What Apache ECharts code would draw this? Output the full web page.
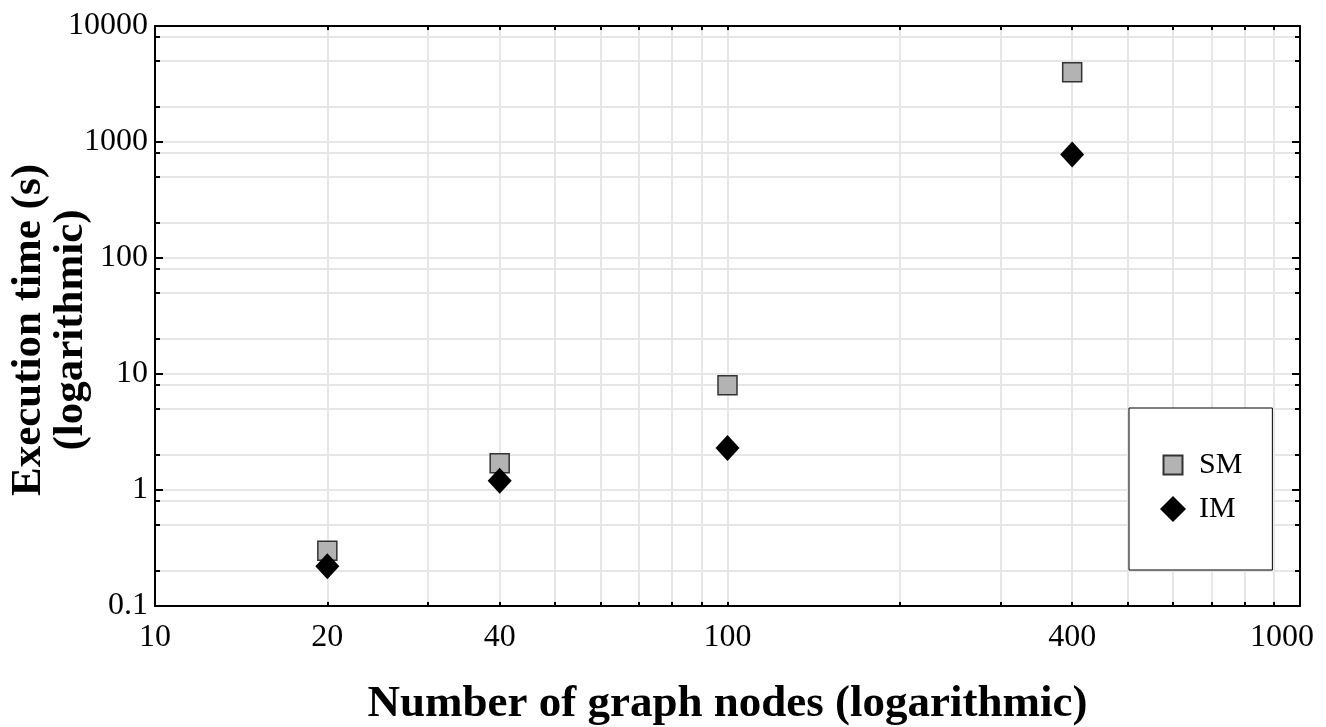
<!DOCTYPE html>
<html>
<head>
<meta charset="utf-8">
<script src="https://cdn.jsdelivr.net/npm/echarts@6/dist/echarts.min.js"></script>
<style>
html, body { margin: 0; padding: 0; background: #fff; }
#main { width: 1326px; height: 727px; }
</style>
</head>
<body>
<div id="main"></div>
<script>
var nodes = [20, 40, 100, 400];
var smTimes = [0.3, 1.7, 8, 4000];
var imTimes = [0.22, 1.2, 2.3, 780];

var xLabels = [10, 20, 40, 100, 400, 1000];
var xGrid = [10, 20, 30, 40, 50, 60, 70, 80, 90, 100, 200, 300, 400, 500, 600, 700, 800, 900, 1000];
var yLabels = [0.1, 1, 10, 100, 1000, 10000];
var yGrid = [0.1, 0.2, 0.5, 0.8, 1, 2, 5, 8, 10, 20, 50, 80, 100, 200, 500, 800, 1000, 2000, 5000, 8000, 10000];

var serif = '"Liberation Serif", "Times New Roman", serif';
var black = { color: '#000', width: 2 };
var gridLine = { show: true, lineStyle: { color: '#e6e6e6', width: 2 } };

function pairs(ys) {
    return nodes.map(function (x, i) { return [x, ys[i]]; });
}
function plain(v) { return String(v); }
// last x label sits a little inside the right edge, like the original
function xFmt(v) {
    return v === xLabels[xLabels.length - 1] ? '{last|' + v + '}' : String(v);
}

var myChart = echarts.init(document.getElementById('main'));
var option = {
    animation: false,
    grid: { left: 155, right: 26, top: 26, bottom: 121, containLabel: false, outerBoundsMode: 'none' },
    legend: {
        orient: 'vertical',
        left: 1129,
        top: 408,
        padding: [42, 30, 46, 30],
        backgroundColor: '#fff',
        borderColor: '#000',
        borderWidth: 1,
        itemWidth: 26,
        itemHeight: 26,
        itemGap: 14,
        textStyle: { fontFamily: serif, fontSize: 30, color: '#000', padding: [0, 0, 0, 8] },
        data: [
            { name: 'SM', icon: 'path://M0,0M3.5,3.5L22.5,3.5L22.5,22.5L3.5,22.5ZM26,26' },
            { name: 'IM', icon: 'diamond' }
        ]
    },
    xAxis: [
        {
            type: 'log', logBase: 10, min: 10, max: 1000, position: 'bottom',
            name: 'Number of graph nodes (logarithmic)',
            nameLocation: 'middle', nameGap: 76,
            nameTextStyle: { fontFamily: serif, fontSize: 45, fontWeight: 'bold', color: '#000' },
            axisLine: { show: true, lineStyle: black },
            axisTick: { show: true, inside: true, length: 4, customValues: xGrid, lineStyle: black },
            axisLabel: {
                customValues: xLabels, formatter: xFmt, margin: 16,
                fontFamily: serif, fontSize: 32, color: '#000',
                rich: { last: { fontFamily: serif, fontSize: 32, color: '#000', padding: [0, 36, 0, 0] } }
            },
            splitLine: gridLine
        },
        {
            type: 'log', logBase: 10, min: 10, max: 1000, position: 'top',
            axisLine: { show: true, lineStyle: black },
            axisTick: { show: true, inside: true, length: 4, customValues: xGrid, lineStyle: black },
            axisLabel: { show: false },
            splitLine: { show: false }
        }
    ],
    yAxis: [
        {
            type: 'log', logBase: 10, min: 0.1, max: 10000, position: 'left',
            name: 'Execution time (s)\n(logarithmic)',
            nameLocation: 'middle', nameRotate: 90, nameGap: 63, nameMoveOverlap: false,
            nameTextStyle: { fontFamily: serif, fontSize: 43, fontWeight: 'bold', color: '#000', lineHeight: 42, padding: [0, 28, 0, 0] },
            axisLine: { show: true, lineStyle: black },
            axisTick: { show: true, inside: true, length: 5, customValues: yGrid, lineStyle: black },
            axisLabel: { customValues: yLabels, formatter: plain, margin: 7, fontFamily: serif, fontSize: 32, color: '#000' },
            splitLine: gridLine
        },
        {
            type: 'log', logBase: 10, min: 0.1, max: 10000, position: 'left',
            axisLine: { show: false },
            axisTick: { show: true, inside: true, length: 8, customValues: yLabels, lineStyle: black },
            axisLabel: { show: false },
            splitLine: { show: false }
        },
        {
            type: 'log', logBase: 10, min: 0.1, max: 10000, position: 'right',
            axisLine: { show: true, lineStyle: black },
            axisTick: { show: true, inside: true, length: 5, customValues: yGrid, lineStyle: black },
            axisLabel: { show: false },
            splitLine: { show: false }
        },
        {
            type: 'log', logBase: 10, min: 0.1, max: 10000, position: 'right',
            axisLine: { show: false },
            axisTick: { show: true, inside: true, length: 8, customValues: yLabels, lineStyle: black },
            axisLabel: { show: false },
            splitLine: { show: false }
        }
    ],
    series: [
        {
            name: 'SM', type: 'scatter', symbol: 'rect', symbolSize: 19,
            itemStyle: { color: '#b3b3b3', borderColor: '#333', borderWidth: 1.5, opacity: 1 },
            data: pairs(smTimes)
        },
        {
            name: 'IM', type: 'scatter', symbol: 'diamond', symbolSize: [24, 26],
            itemStyle: { color: '#000', opacity: 1 },
            data: pairs(imTimes)
        }
    ]
};
myChart.setOption(option);
</script>
</body>
</html>
